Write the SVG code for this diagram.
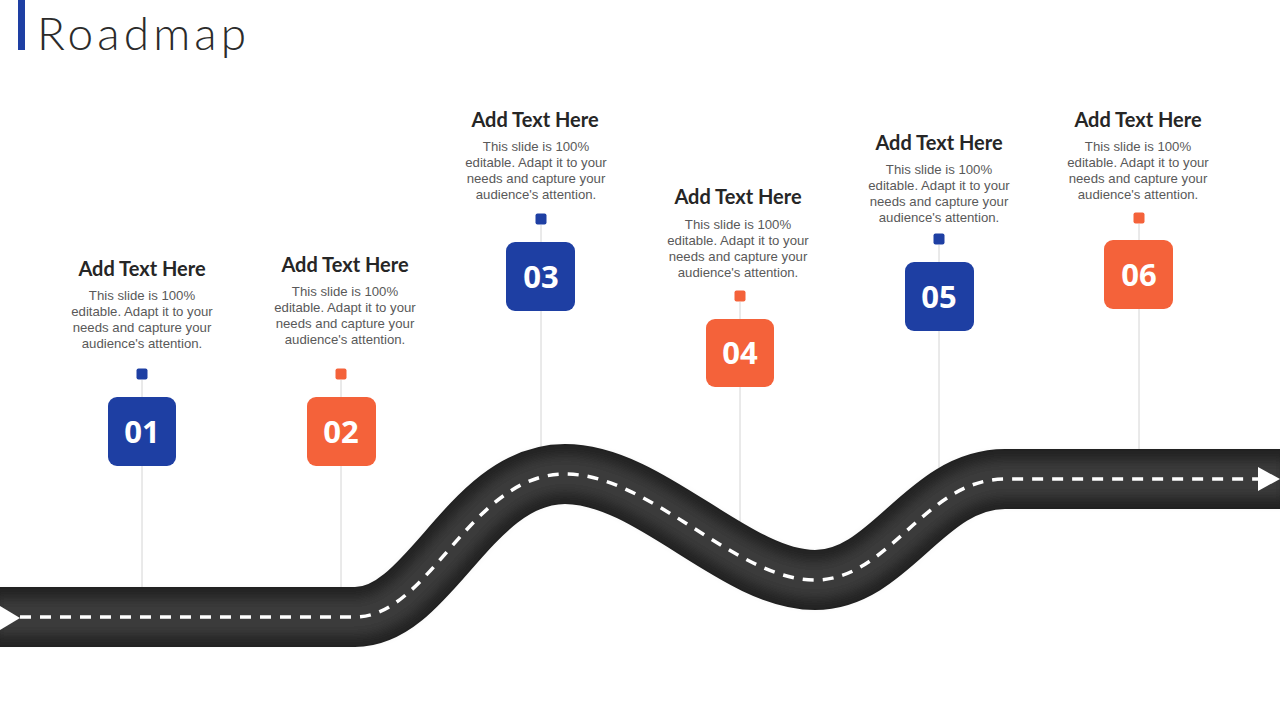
<svg xmlns="http://www.w3.org/2000/svg" width="1280" height="720" viewBox="0 0 1280 720">
<defs>
<style>
.h{font-family:"Lato","Liberation Sans",sans-serif;font-weight:700;font-size:20px;fill:#262626;text-anchor:middle}
.b{font-family:"Liberation Sans",Arial,sans-serif;font-size:13.2px;fill:#595959;text-anchor:middle}
.n{font-family:"Open Sans","Liberation Sans",sans-serif;font-weight:700;font-size:31px;fill:#fff;text-anchor:middle}
.blue{fill:#1e3fa3}
.orange{fill:#f4623a}
.vl{stroke:#d4d4d4;stroke-width:1;fill:none}
</style>
<filter id="blur" x="-10%" y="-50%" width="120%" height="200%"><feGaussianBlur stdDeviation="6"/></filter>
</defs>
<rect width="1280" height="720" fill="#fff"/>
<rect x="18" y="0" width="7" height="50" fill="#1e3fa3"/>
<text x="37" y="50" font-family="Lato,'Liberation Sans',sans-serif" font-weight="300" font-size="46" fill="#2b2b2b" textLength="209" lengthAdjust="spacing">Roadmap</text>

<g id="connectors">
<line class="vl" x1="142" y1="380" x2="142" y2="590"/>
<line class="vl" x1="341" y1="380" x2="341" y2="590"/>
<line class="vl" x1="541" y1="225" x2="541" y2="447"/>
<line class="vl" x1="740" y1="302" x2="740" y2="525"/>
<line class="vl" x1="939" y1="245" x2="939" y2="468"/>
<line class="vl" x1="1139" y1="224" x2="1139" y2="450"/>
</g>

<g id="road">
<path d="M-5,617 L355,617 C430,617 470,474 565,474 C650,474 735,580 815,580 C890,580 925,479 1005,479 L1285,479" fill="none" stroke="#222" stroke-width="60"/>
<path d="M-5,617 L355,617 C430,617 470,474 565,474 C650,474 735,580 815,580 C890,580 925,479 1005,479 L1285,479" fill="none" stroke="#3a3a3a" stroke-width="38" filter="url(#blur)"/>
<path d="M20,617 L355,617 C430,617 470,474 565,474 C650,474 735,580 815,580 C890,580 925,479 1005,479 L1258,479" fill="none" stroke="#fff" stroke-width="3.5" stroke-dasharray="11 9"/>
<polygon points="0,606 20,618 0,630" fill="#fff"/>
<polygon points="1258,467 1280,479 1258,491" fill="#fff"/>
</g>

<g id="node1">
<text class="h" x="142" y="276">Add Text Here</text>
<text class="b" x="142" y="300">This slide is 100%</text>
<text class="b" x="142" y="316">editable. Adapt it to your</text>
<text class="b" x="142" y="332">needs and capture your</text>
<text class="b" x="142" y="348">audience's attention.</text>
<rect class="blue" x="136.5" y="368.5" width="11" height="11" rx="2"/>
<rect class="blue" x="108" y="397" width="68" height="69" rx="9"/>
<text class="n" x="142" y="443">01</text>
</g>

<g id="node2">
<text class="h" x="345" y="272">Add Text Here</text>
<text class="b" x="345" y="296">This slide is 100%</text>
<text class="b" x="345" y="312">editable. Adapt it to your</text>
<text class="b" x="345" y="328">needs and capture your</text>
<text class="b" x="345" y="344">audience's attention.</text>
<rect class="orange" x="335.5" y="368.5" width="11" height="11" rx="2"/>
<rect class="orange" x="307" y="397" width="69" height="69" rx="9"/>
<text class="n" x="341" y="443">02</text>
</g>

<g id="node3">
<text class="h" x="535" y="127">Add Text Here</text>
<text class="b" x="536" y="151">This slide is 100%</text>
<text class="b" x="536" y="167">editable. Adapt it to your</text>
<text class="b" x="536" y="183">needs and capture your</text>
<text class="b" x="536" y="199">audience's attention.</text>
<rect class="blue" x="535.5" y="213.5" width="11" height="11" rx="2"/>
<rect class="blue" x="506" y="242" width="69" height="69" rx="9"/>
<text class="n" x="541" y="288">03</text>
</g>

<g id="node4">
<text class="h" x="738" y="204">Add Text Here</text>
<text class="b" x="738" y="229">This slide is 100%</text>
<text class="b" x="738" y="245">editable. Adapt it to your</text>
<text class="b" x="738" y="261">needs and capture your</text>
<text class="b" x="738" y="277">audience's attention.</text>
<rect class="orange" x="734.5" y="290.5" width="11" height="11" rx="2"/>
<rect class="orange" x="706" y="319" width="68" height="68" rx="9"/>
<text class="n" x="740" y="364">04</text>
</g>

<g id="node5">
<text class="h" x="939" y="150">Add Text Here</text>
<text class="b" x="939" y="174">This slide is 100%</text>
<text class="b" x="939" y="190">editable. Adapt it to your</text>
<text class="b" x="939" y="206">needs and capture your</text>
<text class="b" x="939" y="222">audience's attention.</text>
<rect class="blue" x="933.5" y="233.5" width="11" height="11" rx="2"/>
<rect class="blue" x="905" y="262" width="69" height="69" rx="9"/>
<text class="n" x="939" y="308">05</text>
</g>

<g id="node6">
<text class="h" x="1138" y="127">Add Text Here</text>
<text class="b" x="1138" y="151">This slide is 100%</text>
<text class="b" x="1138" y="167">editable. Adapt it to your</text>
<text class="b" x="1138" y="183">needs and capture your</text>
<text class="b" x="1138" y="199">audience's attention.</text>
<rect class="orange" x="1133.5" y="212.5" width="11" height="11" rx="2"/>
<rect class="orange" x="1104" y="240" width="69" height="69" rx="9"/>
<text class="n" x="1139" y="286">06</text>
</g>
</svg>
